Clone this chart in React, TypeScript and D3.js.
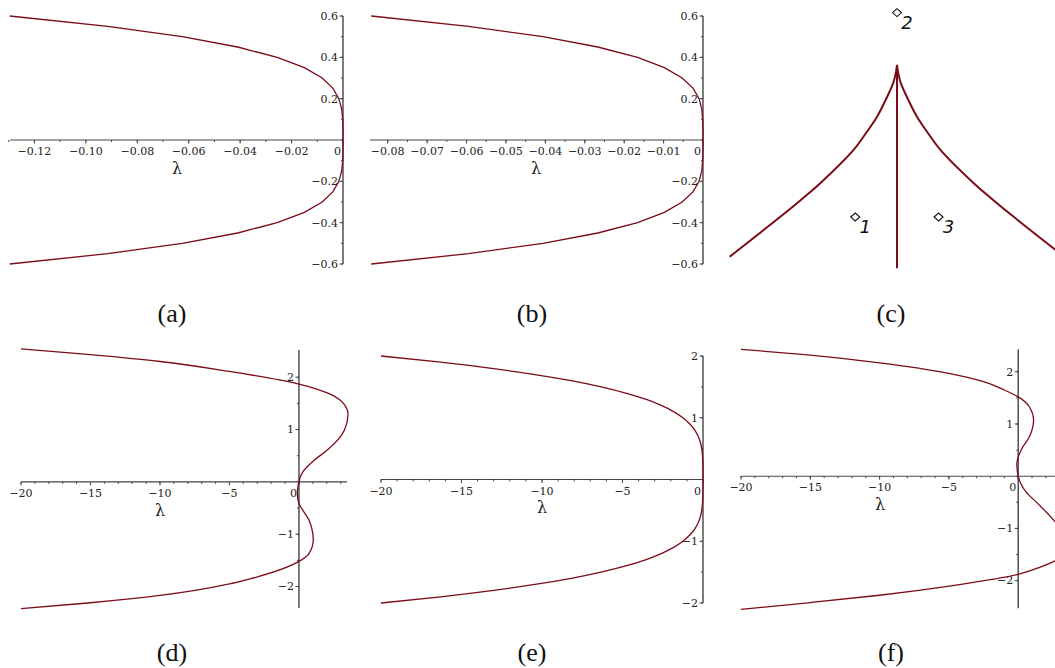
import React from 'react';
import * as d3 from 'd3';

const curveColor = '#7b0b16';
const axisColor = '#444';
const textColor = '#222';

// (a) lambda as a function of y
const aY = [0.6, 0.55, 0.5, 0.45, 0.4, 0.35, 0.3, 0.25, 0.2, 0.15, 0.1, 0.05, 0, -0.05, -0.1, -0.15, -0.2, -0.25, -0.3, -0.35, -0.4, -0.45, -0.5, -0.55, -0.6];
const aLam = [-0.1296, -0.0915, -0.0625, -0.041, -0.0256, -0.015, -0.0081, -0.0039, -0.0016, -0.0005, -0.0001, 0, 0, 0, -0.0001, -0.0005, -0.0016, -0.0039, -0.0081, -0.015, -0.0256, -0.041, -0.0625, -0.0915, -0.1296];

// (b)
const bY = [0.6, 0.55, 0.5, 0.45, 0.4, 0.35, 0.3, 0.25, 0.2, 0.15, 0.1, 0.05, 0, -0.05, -0.1, -0.15, -0.2, -0.25, -0.3, -0.35, -0.4, -0.45, -0.5, -0.55, -0.6];
const bLam = [-0.0842, -0.0595, -0.0406, -0.0267, -0.0166, -0.0098, -0.0053, -0.0025, -0.001, -0.0003, -0.0001, 0, 0, 0, -0.0001, -0.0003, -0.001, -0.0025, -0.0053, -0.0098, -0.0166, -0.0267, -0.0406, -0.0595, -0.0842];

// (c) cusp picture, arbitrary units
const cLeftU = [0, -0.006, -0.019, -0.055, -0.097, -0.151, -0.211, -0.373, -0.467, -0.567, -0.813];
const cLeftV = [0.36, 0.32, 0.27, 0.19, 0.108, 0.028, -0.053, -0.215, -0.296, -0.378, -0.572];
const cRightU = [0, 0.006, 0.019, 0.055, 0.097, 0.151, 0.211, 0.373, 0.467, 0.567, 0.813, 0.9];
const cRightV = [0.36, 0.32, 0.27, 0.19, 0.108, 0.028, -0.053, -0.215, -0.296, -0.378, -0.572, -0.64];
const cStemV = [0.36, -0.628];
const cPointU = [-0.203, 0, 0.202];
const cPointV = [-0.379, 0.614, -0.379];
const cPointLabels = ['1', '2', '3'];

// (d)
const dY = [2.54, 2.43, 2.3, 2.11, 1.87, 1.7, 1.5, 1.29, 1.0, 0.87, 0.61, 0.41, 0.22, 0.1, 0, -0.22, -0.41, -0.73, -1.11, -1.37, -1.52, -1.85, -1.95, -2.17, -2.31, -2.42];
const dLam = [-20, -15, -10, -5, 0, 2.04, 3.2, 3.53, 3.29, 3.0, 2.04, 1.08, 0.36, 0.1, 0, -0.12, 0, 0.72, 1.03, 0.72, 0, -3.47, -5, -10, -15, -20];

// (e)
const eY = [2, 1.9, 1.8, 1.7, 1.6, 1.5, 1.4, 1.3, 1.2, 1.1, 1.0, 0.9, 0.8, 0.7, 0.6, 0.5, 0.4, 0.3, 0.2, 0.1, 0, -0.1, -0.2, -0.3, -0.4, -0.5, -0.6, -0.7, -0.8, -0.9, -1.0, -1.1, -1.2, -1.3, -1.4, -1.5, -1.6, -1.7, -1.8, -1.9, -2];
const eLam = [-20, -16.29, -13.12, -10.44, -8.19, -6.33, -4.8, -3.57, -2.59, -1.83, -1.25, -0.82, -0.51, -0.3, -0.16, -0.08, -0.035, -0.012, -0.003, -0.0003, 0, -0.0003, -0.003, -0.012, -0.035, -0.08, -0.16, -0.3, -0.51, -0.82, -1.25, -1.83, -2.59, -3.57, -4.8, -6.33, -8.19, -10.44, -13.12, -16.29, -20];

// (f)
const fY = [2.43, 2.32, 2.17, 1.97, 1.81, 1.65, 1.52, 1.33, 1.07, 0.75, 0.53, 0.24, 0, -0.3, -0.52, -0.89, -1.1, -1.25, -1.4, -1.61, -1.74, -1.88, -2.09, -2.28, -2.42, -2.55];
const fLam = [-20, -15, -10, -5, -2.5, -1, 0, 0.8, 1.11, 0.8, 0.27, -0.1, 0, 0.56, 1.4, 2.72, 3.3, 3.5, 3.3, 2.72, 1.6, 0, -4.6, -10, -15, -20];

// ticks
const aXTicks = [-0.12, -0.1, -0.08, -0.06, -0.04, -0.02, 0];
const aXMinor = d3.range(-13, 1).map((i) => i * 0.01);
const bXTicks = [-0.08, -0.07, -0.06, -0.05, -0.04, -0.03, -0.02, -0.01, 0];
const bXMinor = d3.range(-16, 1).map((i) => i * 0.005);
const smallYTicks = [-0.6, -0.4, -0.2, 0.2, 0.4, 0.6];
const smallYMinor = d3.range(-6, 7).map((i) => i * 0.1);
const bigXTicks = [-20, -15, -10, -5, 0];
const bigYTicks = [-2, -1, 1, 2];
const bigYMinor = d3.range(-4, 5).map((i) => i * 0.5);

const tickFont = "'DejaVu Serif', 'Liberation Serif', serif";

type Scale = d3.ScaleLinear<number, number>;

function Axes(props: {
  x: Scale; y: Scale;
  xTicks: number[]; xMinor: number[]; yTicks: number[]; yMinor: number[];
  xFmt: (v: number) => string; yFmt: (v: number) => string;
  xExt: [number, number]; yExt: [number, number];
}) {
  const { x, y, xTicks, xMinor, yTicks, yMinor, xFmt, yFmt, xExt, yExt } = props;
  const x0 = x(0);
  const y0 = y(0);
  return (
    <g>
      <line x1={x(xExt[0])} x2={x(xExt[1])} y1={y0} y2={y0} stroke={axisColor} strokeWidth={1.1} />
      <line x1={x0} x2={x0} y1={y(yExt[0])} y2={y(yExt[1])} stroke={axisColor} strokeWidth={1.4} />
      {xMinor.map((v, i) => (
        <line key={'xm' + i} x1={x(v)} x2={x(v)} y1={y0} y2={y0 + 2} stroke={axisColor} strokeWidth={1} />
      ))}
      {xTicks.map((v, i) => (
        <line key={'xt' + i} x1={x(v)} x2={x(v)} y1={y0} y2={y0 + 3.5} stroke={axisColor} strokeWidth={1} />
      ))}
      {yMinor.map((v, i) => (
        <line key={'ym' + i} x1={x0 - 2} x2={x0} y1={y(v)} y2={y(v)} stroke={axisColor} strokeWidth={1} />
      ))}
      {yTicks.map((v, i) => (
        <line key={'yt' + i} x1={x0 - 3.5} x2={x0} y1={y(v)} y2={y(v)} stroke={axisColor} strokeWidth={1} />
      ))}
      {xTicks.map((v, i) => (
        <text key={'xl' + i} x={v === 0 ? x0 - 2 : x(v)} y={y0 + 15} textAnchor={v === 0 ? 'end' : 'middle'}
          fontFamily={tickFont} fontSize={11} fill={textColor}>{xFmt(v)}</text>
      ))}
      {yTicks.map((v, i) => (
        <text key={'yl' + i} x={x0 - 5} y={y(v)} dy="0.35em" textAnchor="end"
          fontFamily={tickFont} fontSize={11} fill={textColor}>{yFmt(v)}</text>
      ))}
    </g>
  );
}

function fnLine(x: Scale, y: Scale, ys: number[], lams: number[], curve: d3.CurveFactory) {
  const pts = ys.map((v, i) => [lams[i], v] as [number, number]);
  return d3.line<[number, number]>().x((d) => x(d[0])).y((d) => y(d[1])).curve(curve)(pts) || '';
}

function Lambda({ x, y }: { x: number; y: number }) {
  return (
    <text x={x} y={y} dy="0.35em" textAnchor="middle" fontFamily={tickFont} fontSize={16} fill={textColor}>λ</text>
  );
}

function Caption({ x, y, t }: { x: number; y: number; t: string }) {
  return (
    <text x={x} y={y} textAnchor="middle" fontFamily="'Liberation Serif', 'DejaVu Serif', serif" fontSize={26} fill="#111">{t}</text>
  );
}

export default function App() {
  const f2 = d3.format('.2f');
  const f1 = d3.format('.1f');
  const fd = d3.format('d');
  const fmt0 = (f: (v: number) => string) => (v: number) => (v === 0 ? '0' : f(v));

  const ax = d3.scaleLinear([-0.1295, 0], [10, 343]);
  const ay = d3.scaleLinear([-0.6, 0.6], [264, 16]);
  const bx = d3.scaleLinear([-0.0845, 0], [370, 703]);
  const by = d3.scaleLinear([-0.6, 0.6], [264, 16]);
  const cx = d3.scaleLinear([-1, 1], [691.2, 1102.8]);
  const cy = d3.scaleLinear([-0.6, 0.6], [262.5, 15.5]);
  const dx = d3.scaleLinear([-20, 3.5], [21, 347.6]);
  const dy = d3.scaleLinear([-2.41, 2.52], [608, 350]);
  const ex = d3.scaleLinear([-20, 0], [381, 703]);
  const ey = d3.scaleLinear([-2, 2], [603, 356]);
  const fx = d3.scaleLinear([-20, 2.8], [741, 1057]);
  const fy = d3.scaleLinear([-2.53, 2.43], [608.3, 349.3]);

  const smooth = d3.curveMonotoneY;
  const cLine = d3.line<[number, number]>().x((d) => cx(d[0])).y((d) => cy(d[1])).curve(d3.curveCatmullRom.alpha(0.5));
  const cLeft = cLine(cLeftU.map((u, i) => [u, cLeftV[i]] as [number, number])) || '';
  const cRight = cLine(cRightU.map((u, i) => [u, cRightV[i]] as [number, number])) || '';

  return (
    <svg width={1055} height={668} style={{ position: 'absolute', left: 0, top: 0, background: '#fff' }}>
      {/* (a) */}
      <Axes x={ax} y={ay} xTicks={aXTicks} xMinor={aXMinor} yTicks={smallYTicks} yMinor={smallYMinor}
        xFmt={fmt0(f2)} yFmt={f1} xExt={[-0.1295, 0]} yExt={[-0.6, 0.6]} />
      <path d={fnLine(ax, ay, aY, aLam, d3.curveLinear)} fill="none" stroke={curveColor} strokeWidth={1.3} />
      <Lambda x={177} y={168} />
      <Caption x={172} y={322} t="(a)" />

      {/* (b) */}
      <Axes x={bx} y={by} xTicks={bXTicks} xMinor={bXMinor} yTicks={smallYTicks} yMinor={smallYMinor}
        xFmt={fmt0(f2)} yFmt={f1} xExt={[-0.0845, 0]} yExt={[-0.6, 0.6]} />
      <path d={fnLine(bx, by, bY, bLam, d3.curveLinear)} fill="none" stroke={curveColor} strokeWidth={1.3} />
      <Lambda x={536} y={168} />
      <Caption x={532} y={322} t="(b)" />

      {/* (c) */}
      <path d={cLeft} fill="none" stroke={curveColor} strokeWidth={2} />
      <path d={cRight} fill="none" stroke={curveColor} strokeWidth={2} />
      <line x1={cx(0)} x2={cx(0)} y1={cy(cStemV[0])} y2={cy(cStemV[1])} stroke={curveColor} strokeWidth={2} />
      {cPointU.map((u, i) => {
        const px = cx(u);
        const py = cy(cPointV[i]);
        return (
          <g key={'cp' + i}>
            <path d={`M${px - 4.5},${py}L${px},${py - 4}L${px + 4.5},${py}L${px},${py + 4}Z`} fill="none" stroke="#111" strokeWidth={1.1} />
            <text x={px + 10} y={py + 10} dy="0.35em" textAnchor="middle" fontFamily="'DejaVu Sans', sans-serif"
              fontStyle="italic" fontSize={18} fill="#111">{cPointLabels[i]}</text>
          </g>
        );
      })}
      <Caption x={891} y={322} t="(c)" />

      {/* (d) */}
      <Axes x={dx} y={dy} xTicks={bigXTicks} xMinor={d3.range(-20, 4)} yTicks={bigYTicks} yMinor={bigYMinor}
        xFmt={fmt0(fd)} yFmt={fd} xExt={[-20, 3.45]} yExt={[-2.41, 2.52]} />
      <path d={fnLine(dx, dy, dY, dLam, smooth)} fill="none" stroke={curveColor} strokeWidth={1.3} />
      <Lambda x={160} y={510} />
      <Caption x={172} y={661} t="(d)" />

      {/* (e) */}
      <Axes x={ex} y={ey} xTicks={bigXTicks} xMinor={d3.range(-20, 1)} yTicks={bigYTicks} yMinor={bigYMinor}
        xFmt={fmt0(fd)} yFmt={fd} xExt={[-20, 0]} yExt={[-2, 2]} />
      <path d={fnLine(ex, ey, eY, eLam, smooth)} fill="none" stroke={curveColor} strokeWidth={1.3} />
      <Lambda x={542} y={507} />
      <Caption x={532} y={661} t="(e)" />

      {/* (f) */}
      <Axes x={fx} y={fy} xTicks={bigXTicks} xMinor={d3.range(-20, 3)} yTicks={bigYTicks} yMinor={bigYMinor}
        xFmt={fmt0(fd)} yFmt={fd} xExt={[-20, 2.8]} yExt={[-2.53, 2.43]} />
      <path d={fnLine(fx, fy, fY, fLam, smooth)} fill="none" stroke={curveColor} strokeWidth={1.3} />
      <Lambda x={880} y={504} />
      <Caption x={891} y={661} t="(f)" />
    </svg>
  );
}
